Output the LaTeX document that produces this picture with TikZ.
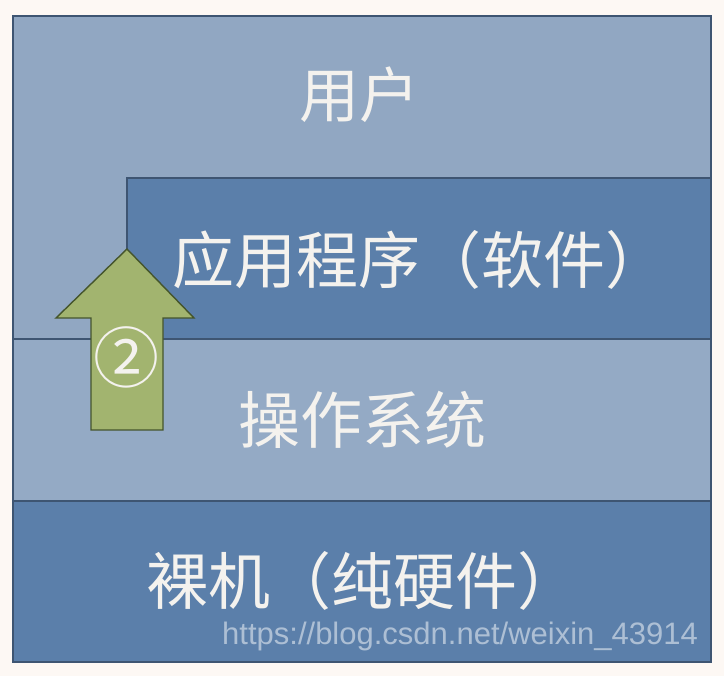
\documentclass[tikz,border=0pt]{standalone}
\usepackage{fontspec}
\newfontfamily\cjk{Noto Sans CJK SC}
\setsansfont{Liberation Sans}
\definecolor{bgc}{HTML}{FDF8F4}
\definecolor{lightlayer}{HTML}{91A7C2}
\definecolor{oslayer}{HTML}{94AAC5}
\definecolor{darklayer}{HTML}{5B7FAA}
\definecolor{edgec}{HTML}{3E5572}
\definecolor{arrowfill}{HTML}{A2B46F}
\definecolor{arrowedge}{HTML}{45552C}
\definecolor{txtc}{HTML}{F4F2EE}
\tikzset{
  layer/.style={draw=edgec, line width=1.6pt},
  label/.style={font=\cjk\fontsize{62}{66}\selectfont, text=txtc, inner sep=0pt},
}
\begin{document}
\begin{tikzpicture}[x=1pt,y=-1pt]
\useasboundingbox (0,0) rectangle (724,676);
\fill[bgc] (0,0) rectangle (724,676);
% layers
\path[layer, fill=lightlayer] (13,16) rectangle (711,339);
\path[layer, fill=darklayer] (127,178) rectangle (711,339);
\path[layer, fill=oslayer] (13,339) rectangle (711,501);
\path[layer, fill=darklayer] (13,501) rectangle (711,662);
% labels
\node[label, font=\cjk\fontsize{60}{66}\selectfont] (user) at (359,95) {用户};
\node[label] (app) at (420,260) {应用程序（软件）};
\node[label] (os) at (362,420) {操作系统};
\node[label] (hw) at (363,581) {裸机（纯硬件）};
% arrow
\draw[draw=arrowedge, line width=1.4pt, fill=arrowfill, line join=miter]
  (91,430) -- (91,318) -- (56,318) -- (127,249) -- (194,318) -- (163,318) -- (163,430) -- cycle;
\node[font=\cjk\fontsize{66}{70}\selectfont, text=txtc, inner sep=0pt] (step2) at (126,357) {②};
% watermark
\node[anchor=west, font=\sffamily\fontsize{31}{34}\selectfont, text=white, opacity=0.5, inner sep=0pt] (wm) at (222,636) {https://blog.csdn.net/weixin\_43914};
\end{tikzpicture}
\end{document}
